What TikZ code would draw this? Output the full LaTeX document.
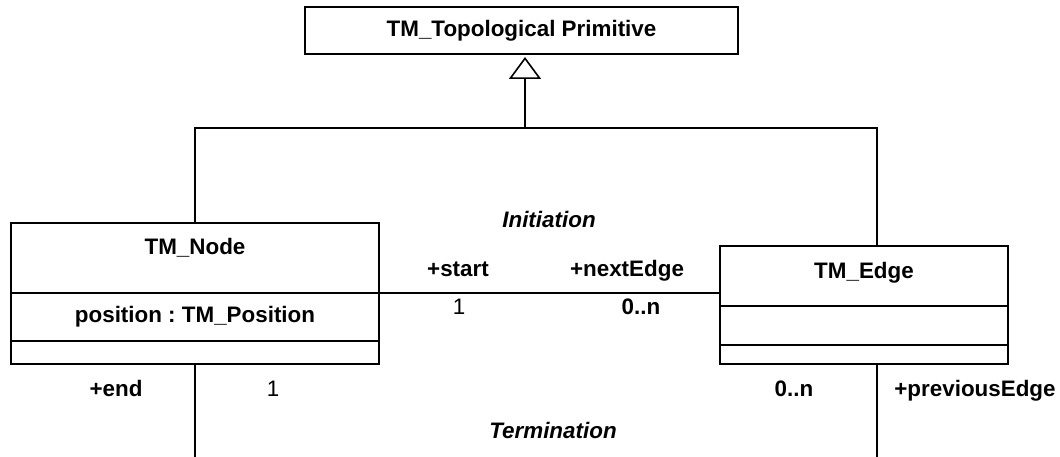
\documentclass[tikz,border=0pt]{standalone}
\usepackage{fontspec}
\setmainfont{Liberation Sans}
\usepackage{tikz}
\usetikzlibrary{positioning, arrows.meta, calc}
\tikzset{
    classbox/.style={
        rectangle,
        draw,
        line width=1.6pt,
        outer sep=0pt,
        inner sep=0pt,
        align=center
    },
    link/.style={
        line width=1.6pt
    },
    inherit/.style={
        link,
        -{Triangle[open, length=22pt, width=32pt]}
    },
    role/.style={
        anchor=base,
        inner sep=0pt,
        font=\bfseries
    },
    mult/.style={
        anchor=base,
        inner sep=0pt
    },
    assoc/.style={
        anchor=base,
        inner sep=0pt,
        font=\bfseries\itshape
    }
}

\begin{document}
\frenchspacing
\fontsize{22.4}{27}\selectfont
\begin{tikzpicture}[x=1pt, y=-1pt]
    \useasboundingbox (0,0) rectangle (1060,457);
    \node[classbox, minimum width=433pt, minimum height=47pt, font=\bfseries] (primitive) at (521.5,30.5) {TM\_Topological Primitive};

    \node[classbox, minimum width=368pt, minimum height=70pt, anchor=north, label={[below=15pt, inner sep=0pt, font=\bfseries]north:TM\_Node}] (nodehead) at (195,223) {};
    \node[classbox, minimum width=368pt, minimum height=48pt, below=0pt of nodehead, font=\bfseries] (nodeattr) {position : TM\_Position};
    \node[classbox, minimum width=368pt, minimum height=23pt, below=0pt of nodeattr] (nodeops) {};

    \node[classbox, minimum width=288pt, minimum height=60pt, anchor=north, label={[below=16pt, inner sep=0pt, font=\bfseries]north:TM\_Edge}] (edgehead) at (864,246) {};
    \node[classbox, minimum width=288pt, minimum height=39pt, below=0pt of edgehead] (edgeattr) {};
    \node[classbox, minimum width=288pt, minimum height=19pt, below=0pt of edgeattr] (edgeops) {};

    \coordinate (bus) at (525,128);
    \coordinate (endfoot) at (195,457);
    \coordinate (edgefoot) at (877,457);
    \draw[link] (nodehead.north) |- (bus) -| ([xshift=13pt]edgehead.north);
    \draw[inherit] (bus) -- ([xshift=3.5pt, yshift=-3pt]primitive.south);
    \draw[link] (nodehead.south east) -- (nodehead.south east -| edgehead.west);
    \draw[link] (nodeops.south) -- (endfoot);
    \draw[link] ([xshift=13pt]edgeops.south) -- (edgefoot);

    \node[assoc] (initiation) at (549,228) {Initiation};
    \node[role] (startrole) at (458,276) {+start};
    \node[role] (nextrole) at (627,276) {+nextEdge};
    \node[mult] (startmult) at (459,314) {1};
    \node[role] (nextmult) at (641,314) {0..n};
    \node[role] (endrole) at (116,396) {+end};
    \node[mult] (endmult) at (273,396) {1};
    \node[role] (prevmult) at (794,396) {0..n};
    \node[role] (prevrole) at (975,396) {+previousEdge};
    \node[assoc] (termination) at (553,438) {Termination};
\end{tikzpicture}
\end{document}
